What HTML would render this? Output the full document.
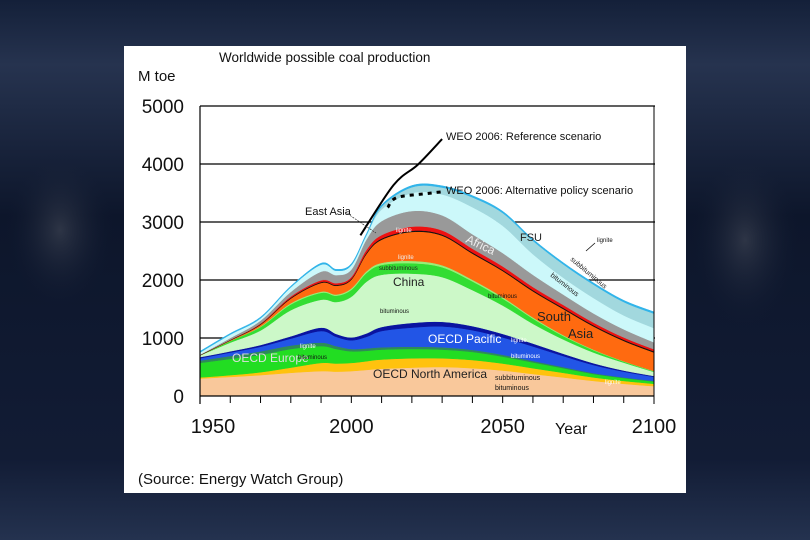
<!DOCTYPE html>
<html><head><meta charset="utf-8"><style>
html,body{margin:0;padding:0;width:810px;height:540px;overflow:hidden;background:#101a30;}
svg{display:block;font-family:"Liberation Sans",sans-serif;}
</style></head><body>
<svg id="chart" width="810" height="540" viewBox="0 0 810 540">
<defs>
<linearGradient id="bg" x1="0" y1="0" x2="0" y2="1">
<stop offset="0" stop-color="#142039"/><stop offset="0.12" stop-color="#26334f"/><stop offset="0.4" stop-color="#0d162b"/><stop offset="0.85" stop-color="#121c35"/><stop offset="1" stop-color="#24324f"/>
</linearGradient>
<radialGradient id="glowL" cx="0.5" cy="0.5" r="0.5"><stop offset="0" stop-color="#555a66" stop-opacity="0.45"/><stop offset="1" stop-color="#0e1830" stop-opacity="0"/></radialGradient>
</defs>
<rect x="0" y="0" width="810" height="540" fill="url(#bg)"/>
<ellipse cx="60" cy="230" rx="55" ry="80" fill="url(#glowL)"/>
<ellipse cx="745" cy="240" rx="55" ry="90" fill="url(#glowL)"/>
<rect x="124" y="46" width="562" height="447" fill="#ffffff"/>
<text x="219" y="62" font-size="13.5" fill="#111">Worldwide possible coal production</text>
<text x="138" y="81" font-size="15" fill="#111">M toe</text>
<g id="grid"></g>
<g id="bands"></g>
<g id="lines"></g>
<g id="axes"></g>
<g id="labels"></g>
<text x="555" y="434" font-size="16" fill="#111">Year</text>
<text x="138" y="484" font-size="15" fill="#111">(Source: Energy Watch Group)</text>
</svg>
<script>
const years = [1950,1960,1970,1980,1990,1995,2000,2005,2010,2020,2030,2040,2050,2060,2070,2080,2090,2100];
const naBit  = [300,330,360,400,430,420,430,450,470,490,500,480,440,380,320,260,210,170];
const naSub  = [20,30,50,90,140,140,140,150,160,160,150,140,120,100,80,60,50,40];
const euBit  = [250,280,300,320,290,250,200,180,170,160,150,140,120,100,80,60,50,40];
const euLig  = [40,50,60,60,60,50,40,40,40,40,40,35,30,25,20,15,10,10];
const pacBit = [40,60,80,120,200,160,150,200,280,330,360,340,300,250,190,140,100,70];
const pacLig = [20,20,30,40,60,50,50,60,70,80,80,70,60,50,40,30,20,15];
const chBit  = [30,150,250,450,480,550,700,890,900,850,770,620,490,340,245,185,135,70];
const chSub  = [0,30,60,100,120,110,120,150,170,180,170,150,120,90,60,40,20,10];
const chLig  = [0,0,10,20,20,20,25,30,35,40,35,30,25,20,15,10,5,5];
const saBit  = [0,10,30,80,150,150,150,300,400,500,510,450,450,450,450,400,350,320];
const eaBlack= [10,10,10,15,15,15,15,20,20,20,20,20,20,20,20,20,20,20];
const afRed  = [0,0,10,20,30,30,30,50,60,70,70,65,60,55,50,45,40,35];
const afGrey = [0,30,50,80,150,140,130,180,240,270,260,250,230,210,180,160,140,120];
const fsuBit = [40,60,40,80,120,75,75,75,200,310,360,465,470,355,290,265,240,245];
const fsuSub = [0,0,0,0,0,0,0,0,50,100,120,170,220,230,230,230,230,250];
const fsuLig = [20,20,20,20,25,25,25,25,30,30,30,30,30,30,30,30,30,30];
const refYears = [2003,2014,2022,2030];
const refVals  = [2770,3640,3990,4430];
const altYears = [2012,2015,2025,2030];
const altVals  = [3250,3420,3490,3520];
const yTicks = [0,1000,2000,3000,4000,5000];
const xTickLabels = [1950,2000,2050,2100];

const NS="http://www.w3.org/2000/svg";
const X0=200,X1=654,Y0=396,Y1=106;
const xs=y=>X0+(y-1950)*(X1-X0)/150;
const ys=v=>Y0-v*(Y0-Y1)/5000;
function mk(tag,attrs,parent){const e=document.createElementNS(NS,tag);for(const k in attrs)e.setAttribute(k,attrs[k]);parent.appendChild(e);return e;}
function curve(pts){
  let d="M"+pts[0][0].toFixed(1)+","+pts[0][1].toFixed(1);
  for(let i=0;i<pts.length-1;i++){
    const p0=pts[Math.max(0,i-1)],p1=pts[i],p2=pts[i+1],p3=pts[Math.min(pts.length-1,i+2)];
    const c1=[p1[0]+(p2[0]-p0[0])/6,p1[1]+(p2[1]-p0[1])/6];
    const c2=[p2[0]-(p3[0]-p1[0])/6,p2[1]-(p3[1]-p1[1])/6];
    d+="C"+c1[0].toFixed(1)+","+c1[1].toFixed(1)+" "+c2[0].toFixed(1)+","+c2[1].toFixed(1)+" "+p2[0].toFixed(1)+","+p2[1].toFixed(1);
  }
  return d;
}
const grid=document.getElementById('grid');
yTicks.forEach(t=>{
  if(t>0){const l=mk('line',{x1:X0,x2:X1+1,y1:ys(t),y2:ys(t),stroke:'#000','stroke-width':1.2},grid);
  
  }
  const tx=mk('text',{x:184,y:ys(t)+7,'font-size':19,'text-anchor':'end',fill:'#111'},grid);
  tx.textContent=t;
  
  
});
const layers=[
 [naBit,'#f9c89b','na-bituminous'],[naSub,'#ffc20e','na-subbituminous'],[euBit,'#22dd22','europe-bituminous'],
 [euLig,'#2e8b57','europe-lignite'],[pacBit,'#2255e6','pacific-bituminous'],[pacLig,'#0a14a0','pacific-lignite'],
 [chBit,'#ccf8c8','china-bituminous'],[chSub,'#33dd33','china-subbituminous'],[chLig,'#99ee77','china-lignite'],
 [saBit,'#ff6a10','south-asia-bituminous'],[eaBlack,'#111111','east-asia'],[afRed,'#ee1111','africa-lignite'],
 [afGrey,'#999999','africa'],[fsuBit,'#ccf8fa','fsu-bituminous'],[fsuSub,'#a2d8de','fsu-subbituminous'],[fsuLig,'#30b4ea','fsu-lignite']
];
const bands=document.getElementById('bands');
let cum=years.map(()=>0);
layers.forEach(([arr,col,name])=>{
  const lo=cum.slice();
  cum=cum.map((c,i)=>c+arr[i]);
  const top=years.map((y,i)=>[xs(y),ys(cum[i])]);
  const bot=years.map((y,i)=>[xs(y),ys(lo[i])]).reverse();
  let d=curve(top)+"L"+bot[0][0]+","+bot[0][1]+curve(bot).slice(1).replace(/^[^C]*/,'')+"Z";
  const p=mk('path',{d:d,fill:col,stroke:col,'stroke-width':0.5},bands);
  
  
});
const lines=document.getElementById('lines');
const ref=mk('path',{d:curve(refYears.map((y,i)=>[xs(y),ys(refVals[i])])),fill:'none',stroke:'#000','stroke-width':2},lines);


const alt=mk('path',{d:curve(altYears.map((y,i)=>[xs(y),ys(altVals[i])])),fill:'none',stroke:'#000','stroke-width':3,'stroke-dasharray':'4,5'},lines);


const axes=document.getElementById('axes');
let a=mk('line',{x1:X0,x2:X0,y1:Y1,y2:Y0+8,stroke:'#000','stroke-width':1.2},axes);

a=mk('line',{x1:X0,x2:X1,y1:Y0,y2:Y0,stroke:'#000','stroke-width':1.2},axes);

a=mk('line',{x1:X1,x2:X1,y1:Y1,y2:Y0+8,stroke:'#000','stroke-width':1},axes);

for(let y=1960;y<=2100;y+=10){const t=mk('line',{x1:xs(y),x2:xs(y),y1:Y0,y2:Y0+7,stroke:'#000','stroke-width':1},axes);

}
xTickLabels.forEach(y=>{const t=mk('text',{x:xs(y)+(y===1950?13:0),y:433,'font-size':20,'text-anchor':'middle',fill:'#111'},axes);
t.textContent=y;

});
const lab=[
 ['WEO 2006: Reference scenario',446,140,11,'#111',0],['WEO 2006: Alternative policy scenario',446,194,11,'#111',0],
 ['East Asia',305,215,11,'#111',0],['lignite',396,232,6,'#fff',0],['Africa',465,242,12,'#eee',25],['FSU',520,241,11,'#222',0],
 ['lignite',597,242,6,'#111',0],['subbituminous',570,260,7,'#222',40],['bituminous',550,276,7,'#222',38],
 ['lignite',398,259,6,'#eee',0],['subbituminous',379,270,6,'#222',0],['China',393,286,12,'#222',0],['bituminous',380,313,6,'#111',0],
 ['bituminous',488,298,6,'#111',0],['South',537,321,13,'#222',0],['Asia',568,338,13,'#222',0],['OECD Pacific',428,343,12,'#fff',0],
 ['lignite',511,342,6,'#fff',0],['bituminous',511,358,6,'#fff',0],['OECD Europe',232,362,12,'#ddd',0],['lignite',300,348,6,'#fff',0],
 ['bituminous',298,359,6,'#111',0],['OECD North America',373,378,12,'#222',0],['subbituminous',495,380,7,'#111',0],['bituminous',495,390,7,'#111',0],['lignite',605,384,6,'#fff',0]
];
const lg=document.getElementById('labels');
lab.forEach(([s,x,y,fs,c,r])=>{const t=mk('text',{x:x,y:y,'font-size':fs,fill:c,transform:'rotate('+r+' '+x+' '+y+')'},lg);
t.textContent=s;

});
let ld=mk('line',{x1:345,y1:212,x2:376,y2:233,stroke:'#333','stroke-width':0.7,'stroke-dasharray':'2,1'},lg);

ld=mk('line',{x1:586,y1:251,x2:595,y2:243,stroke:'#111','stroke-width':0.8},lg);

</script>
</body></html>
